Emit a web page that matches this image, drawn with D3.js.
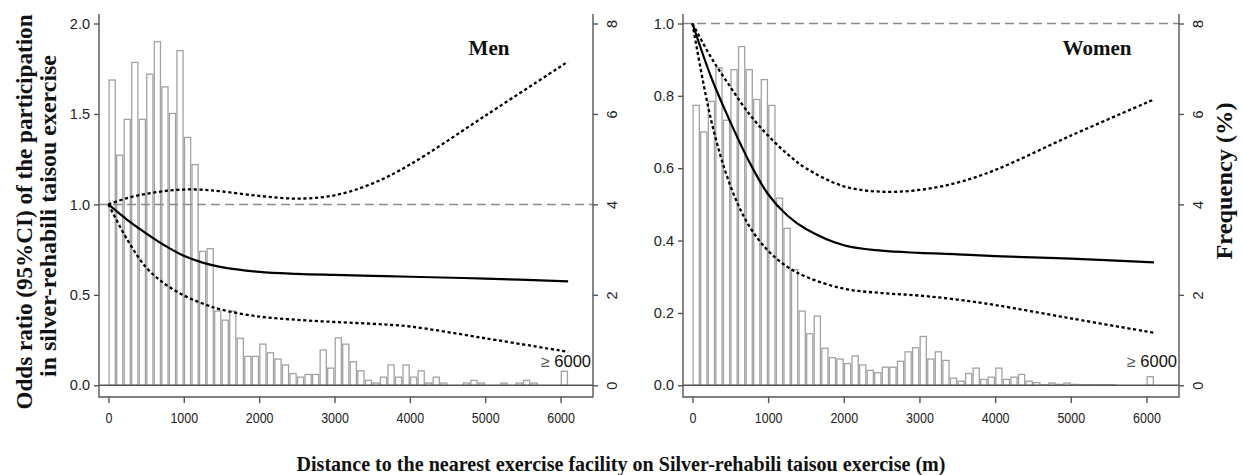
<!DOCTYPE html>
<html>
<head>
<meta charset="utf-8">
<script src="https://cdn.jsdelivr.net/npm/d3@7/dist/d3.min.js"></script>
<style>
  body { margin: 0; background: #fff; }
  svg { display: block; }
  .tick text { font-family: "Liberation Sans", Arial, sans-serif; font-size: 14.5px; fill: #222; }
  .ttl { font-family: "Liberation Serif", "Times New Roman", serif; font-weight: bold; fill: #111; }
</style>
</head>
<body>
<svg id="chart" width="1242" height="475"></svg>
<script>
// histogram: share of people (%) per 100 m bin, last bin = >= 6000 m
const binWidth = 100
const menFreq = [6.75, 5.09, 5.88, 7.14, 5.88, 6.88, 7.60, 6.60, 6.01, 7.40,
                 5.48, 4.88, 2.96, 3.02, 1.64, 1.44, 1.64, 1.04, 0.64, 0.64,
                 0.91, 0.72, 0.58, 0.45, 0.26, 0.18, 0.24, 0.24, 0.78, 0.38,
                 1.05, 0.91, 0.52, 0.32, 0.11, 0.05, 0.18, 0.45, 0.18, 0.45,
                 0.18, 0.32, 0.05, 0.18, 0.05, 0, 0, 0.05, 0.11, 0.05,
                 0, 0, 0.05, 0, 0.05, 0.11, 0.05, 0, 0, 0,
                 0.31]
const womenFreq = [6.19, 5.60, 6.28, 7.02, 5.86, 6.98, 7.49, 6.98, 6.32, 6.76,
                   6.19, 4.14, 3.47, 2.56, 1.64, 1.14, 1.53, 0.82, 0.61, 0.58,
                   0.48, 0.65, 0.45, 0.33, 0.28, 0.40, 0.40, 0.53, 0.74, 0.83,
                   1.08, 0.58, 0.74, 0.55, 0.16, 0.09, 0.26, 0.38, 0.13, 0.18,
                   0.38, 0.13, 0.18, 0.24, 0.09, 0.06, 0.01, 0.05, 0.02, 0.05,
                   0.02, 0.01, 0.015, 0.01, 0.015, 0.01, 0, 0, 0, 0,
                   0.19]

// spline of odds ratios (95% CI) against distance
const curveDist  = [0, 250, 500, 750, 1000, 1250, 1500, 2000, 2500, 3000, 3500, 4000, 5000, 6100]
const menOR      = [1.0, 0.915, 0.84, 0.772, 0.716, 0.678, 0.653, 0.627, 0.616, 0.61, 0.605, 0.60, 0.59, 0.575]
const menUpper   = [1.0, 1.035, 1.058, 1.074, 1.082, 1.081, 1.072, 1.047, 1.032, 1.05, 1.115, 1.22, 1.49, 1.79]
const menLower   = [1.0, 0.805, 0.652, 0.56, 0.497, 0.452, 0.418, 0.38, 0.362, 0.35, 0.34, 0.325, 0.26, 0.185]
const womenOR    = [1.0, 0.85, 0.728, 0.618, 0.528, 0.47, 0.432, 0.387, 0.372, 0.366, 0.362, 0.357, 0.35, 0.34]
const womenUpper = [1.0, 0.905, 0.825, 0.75, 0.69, 0.64, 0.6, 0.55, 0.535, 0.54, 0.56, 0.595, 0.69, 0.79]
const womenLower = [1.0, 0.73, 0.552, 0.44, 0.372, 0.328, 0.3, 0.267, 0.255, 0.248, 0.237, 0.222, 0.185, 0.145]

const xTicks = [0, 1000, 2000, 3000, 4000, 5000, 6000]
const menTicks = [0, 0.5, 1.0, 1.5, 2.0]
const womenTicks = [0, 0.2, 0.4, 0.6, 0.8, 1.0]
const freqTicks = [0, 2, 4, 6, 8]

const svg = d3.select('#chart')
const frameTop = 14, frameBottom = 397, zeroY = 385.3
const axisCol = '#555'

function drawPanel(p) {
  const x = d3.scaleLinear().domain([-125, 6430]).range([p.left, p.right])
  const y = d3.scaleLinear().domain([0, p.orMax]).range([zeroY, 23.5])
  const yF = d3.scaleLinear().domain([0, 8]).range([zeroY, 23.5])
  const g = svg.append('g')

  // bars
  g.append('g').selectAll('rect')
    .data(p.freq)
    .join('rect')
      .attr('x', (d, i) => x(i * binWidth) + 0.7)
      .attr('width', x(binWidth) - x(0) - 1.4)
      .attr('y', d => yF(d))
      .attr('height', d => yF(0) - yF(d))
      .attr('fill', '#fff')
      .attr('stroke', '#a2a2a2')
      .attr('stroke-width', 1.3)

  // reference lines
  g.append('line')
    .attr('x1', p.left).attr('x2', p.right)
    .attr('y1', y(1)).attr('y2', y(1))
    .attr('stroke', '#8a8a8a').attr('stroke-width', 1.5).attr('stroke-dasharray', '9,5')
  g.append('line')
    .attr('x1', p.left).attr('x2', p.right)
    .attr('y1', y(0)).attr('y2', y(0))
    .attr('stroke', axisCol).attr('stroke-width', 1.5)

  // curves
  const line = d3.line().x(d => x(d[0])).y(d => y(d[1])).curve(d3.curveCatmullRom.alpha(0.5))
  const series = [
    { v: p.upper, dash: '3.2,2.6' },
    { v: p.lower, dash: '3.2,2.6' },
    { v: p.or, dash: null }
  ]
  series.forEach(s => {
    g.append('path')
      .datum(curveDist.map((d, i) => [d, s.v[i]]))
      .attr('d', line)
      .attr('fill', 'none')
      .attr('stroke', '#000')
      .attr('stroke-width', s.dash ? 2.3 : 2.2)
      .attr('stroke-dasharray', s.dash)
  })

  // frame (left, right, bottom)
  g.append('path')
    .attr('d', `M${p.left},${frameTop}V${frameBottom}H${p.right}V${frameTop}`)
    .attr('fill', 'none').attr('stroke', axisCol).attr('stroke-width', 1.4)

  // left axis
  const ax = g.append('g')
    .attr('transform', `translate(${p.left},0)`)
    .call(d3.axisLeft(y).tickValues(p.orTicks).tickFormat(d3.format('.1f')).tickSize(5).tickPadding(4))
  ax.select('.domain').remove()
  ax.selectAll('line').attr('stroke', axisCol).attr('stroke-width', 1.4)

  // right axis (frequency)
  const ar = g.append('g')
    .attr('transform', `translate(${p.right},0)`)
    .call(d3.axisRight(yF).tickValues(freqTicks).tickSize(5))
  ar.select('.domain').remove()
  ar.selectAll('line').attr('stroke', axisCol).attr('stroke-width', 1.4)
  ar.selectAll('text')
    .attr('x', null).attr('dy', null)
    .attr('text-anchor', 'middle')
    .attr('dominant-baseline', 'central')
    .attr('transform', 'translate(19,0) rotate(-90)')

  // bottom axis
  const ab = g.append('g')
    .attr('transform', `translate(0,${frameBottom})`)
    .call(d3.axisBottom(x).tickValues(xTicks).tickFormat(d3.format('d')).tickSize(6).tickPadding(10))
  ab.select('.domain').remove()
  ab.selectAll('line').attr('stroke', axisCol).attr('stroke-width', 1.4)
  ab.selectAll('text').attr('transform', 'scale(0.86,1)')

  // labels
  g.append('text').attr('class', 'ttl')
    .attr('x', p.labelX).attr('y', 55)
    .attr('text-anchor', 'middle').attr('font-size', 21)
    .text(p.label)

  const ge = g.append('text')
    .attr('x', p.right - 2).attr('y', 367)
    .attr('text-anchor', 'end')
    .attr('font-family', '"Liberation Sans", Arial, sans-serif')
    .attr('font-size', 16.5).attr('fill', '#111')
  ge.append('tspan').attr('fill', '#555').attr('font-size', 16).text('\u2265 ')
  ge.append('tspan').text('6000')
}

drawPanel({ left: 99, right: 593, orMax: 2, orTicks: menTicks, freq: menFreq,
            or: menOR, upper: menUpper, lower: menLower, label: 'Men', labelX: 489 })
drawPanel({ left: 683, right: 1179, orMax: 1, orTicks: womenTicks, freq: womenFreq,
            or: womenOR, upper: womenUpper, lower: womenLower, label: 'Women', labelX: 1097 })

// axis titles
svg.append('text').attr('class', 'ttl')
  .attr('transform', 'translate(32,212) rotate(-90)')
  .attr('text-anchor', 'middle').attr('font-size', 24)
  .attr('textLength', 395).attr('lengthAdjust', 'spacingAndGlyphs')
  .text('Odds ratio (95%CI) of the participation')
svg.append('text').attr('class', 'ttl')
  .attr('transform', 'translate(56,216) rotate(-90)')
  .attr('text-anchor', 'middle').attr('font-size', 24)
  .attr('textLength', 322).attr('lengthAdjust', 'spacingAndGlyphs')
  .text('in silver-rehabili taisou exercise')
svg.append('text').attr('class', 'ttl')
  .attr('transform', 'translate(1232,181) rotate(-90)')
  .attr('text-anchor', 'middle').attr('font-size', 24)
  .attr('textLength', 157).attr('lengthAdjust', 'spacingAndGlyphs')
  .text('Frequency (%)')
svg.append('text').attr('class', 'ttl')
  .attr('x', 621).attr('y', 471)
  .attr('text-anchor', 'middle').attr('font-size', 22)
  .attr('textLength', 649).attr('lengthAdjust', 'spacingAndGlyphs')
  .text('Distance to the nearest exercise facility on Silver-rehabili taisou exercise (m)')
</script>
</body>
</html>
